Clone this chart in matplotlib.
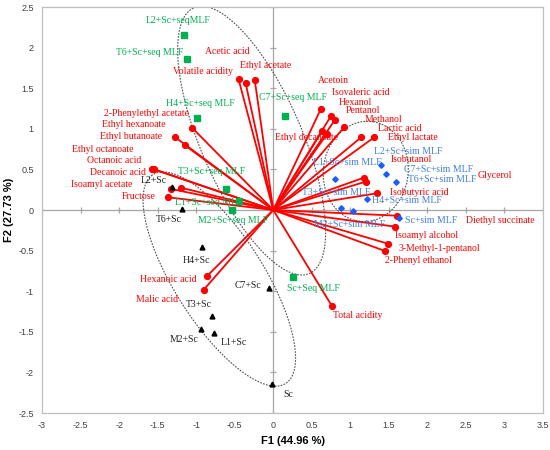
import numpy as np
import matplotlib.pyplot as plt

# loading vectors (variables)
var_names = ['Acetic acid', 'Volatile acidity', 'Ethyl acetate', '2-Phenylethyl acetate',
             'Ethyl hexanoate', 'Ethyl butanoate', 'Ethyl octanoate', 'Octanoic acid',
             'Decanoic acid', 'Isoamyl acetate', 'Fructose', 'Acetoin', 'Isovaleric acid',
             'Hexanol', 'Pentanol', 'Ethyl decanoate', 'Methanol', 'Lactic acid',
             'Ethyl lactate', 'Isobutanol', 'Glycerol', 'Isobutyric acid',
             'Diethyl succinate', 'Isoamyl alcohol', '3-Methyl-1-pentanol',
             '2-Phenyl ethanol', 'Total acidity', 'Hexanoic acid', 'Malic acid']
var_x = [-0.36, -0.45, -0.24, -1.05, -1.27, -1.15, -1.55, -1.20, -1.57, -1.33, -1.36,
         0.62, 0.75, 0.80, 0.92, 0.63, 0.70, 1.14, 1.31, 1.18, 1.20, 1.34,
         1.61, 1.58, 1.49, 1.45, 0.76, -0.855, -0.90]
var_y = [1.57, 1.61, 1.60, 1.01, 0.895, 0.80, 0.50, 0.275, 0.51, 0.26, 0.156,
         1.25, 1.16, 1.11, 1.02, 0.97, 0.94, 0.895, 0.895, 0.40, 0.35, 0.205,
         -0.07, -0.205, -0.415, -0.505, -1.18, -0.81, -0.98]
# label positions (centre of text)
var_lx = [-0.60, -0.91, -0.095, -1.64, -1.81, -1.84, -2.21, -2.07, -2.01, -2.23, -1.75,
          0.78, 1.14, 1.06, 1.16, 0.43, 1.43, 1.64, 1.81, 1.79, 2.88, 1.90,
          2.94, 1.99, 2.15, 1.88, 1.09, -1.36, -1.51]
var_ly = [1.95, 1.71, 1.78, 1.19, 1.055, 0.91, 0.74, 0.61, 0.46, 0.31, 0.17,
          1.60, 1.45, 1.33, 1.23, 0.895, 1.11, 1.00, 0.89, 0.62, 0.43, 0.22,
          -0.13, -0.32, -0.48, -0.62, -1.30, -0.86, -1.10]

# observations: sequential MLF (green)
seq_names = ['L2+Sc+seqMLF', 'T6+Sc+seq MLF', 'H4+Sc+seq MLF', 'C7+Sc+seq MLF',
             'T3+Sc+seq MLF', 'L1+Sc+seq MLF', 'M2+Sc+seq MLF', 'Sc+Seq MLF']
seq_x = [-1.16, -1.12, -0.99, 0.15, -0.61, -0.44, -0.53, 0.255]
seq_y = [2.16, 1.86, 1.13, 1.16, 0.255, 0.11, 0.0, -0.82]
seq_lx = [-1.23, -1.60, -0.95, 0.25, -0.80, -0.84, -0.52, 0.52]
seq_ly = [2.34, 1.94, 1.31, 1.38, 0.47, 0.095, -0.135, -0.965]

# simultaneous MLF (blue)
sim_names = ['L2+Sc+sim MLF', 'C7+Sc+sim MLF', 'T6+Sc+sim MLF', 'L1+Sc+sim MLF',
             'H4+Sc+sim MLF', 'T3+Sc+sim MLF', 'M2+Sc+sim MLF', 'Sc+sim MLF']
sim_x = [1.40, 1.46, 1.59, 0.80, 1.21, 0.88, 1.03, 1.63]
sim_y = [0.55, 0.44, 0.345, 0.38, 0.13, 0.02, -0.01, -0.10]
sim_lx = [1.75, 2.15, 2.19, 0.96, 1.74, 0.82, 0.995, 2.05]
sim_ly = [0.72, 0.50, 0.38, 0.58, 0.115, 0.22, -0.18, -0.13]

# Sc only (black)
sc_names = ['L2+Sc', 'T6+Sc', 'H4+Sc', 'C7+Sc', 'T3+Sc', 'M2+Sc', 'L1+Sc', 'Sc']
sc_x = [-1.32, -1.19, -0.93, -0.055, -0.79, -0.94, -0.765, -0.02]
sc_y = [0.28, 0.01, -0.455, -0.965, -1.31, -1.46, -1.51, -2.14]
sc_lx = [-1.55, -1.35, -1.0, -0.33, -0.97, -1.16, -0.51, 0.195]
sc_ly = [0.36, -0.12, -0.62, -0.93, -1.16, -1.59, -1.63, -2.27]

# group ellipses: centre x, centre y, semi-major, semi-minor, angle (deg)
ell_cx = [-0.28, -0.70, 1.20]
ell_cy = [0.855, -0.85, 0.475]
ell_a = [1.80, 1.548, 0.62]
ell_b = [0.65, 0.57, 0.55]
ell_ang = [114.9, 124.2, 80.0]

RED = '#ff0000'
GREEN = '#00b050'
BLUE_TXT = '#3d7fe8'
BLUE_PT = '#1a5cff'
serif = 'Liberation Serif'
sans = 'Liberation Sans'

fig = plt.figure(figsize=(5.5, 4.5), dpi=100)
ax = fig.add_axes([0.0764, 0.0822, 0.9109, 0.9022])
ax.set_xlim(-3, 3.5)
ax.set_ylim(-2.5, 2.5)

# zero axes with cross ticks
ax.axhline(0, color='#a6a6a6', lw=0.9, zorder=1)
ax.axvline(0, color='#a6a6a6', lw=0.9, zorder=1)
xt = np.arange(-3, 3.51, 0.5)
yt = np.arange(-2.5, 2.51, 0.5)
ax.plot(xt, np.zeros_like(xt), ls='none', marker='|', ms=5, mew=0.9, color='#a6a6a6', zorder=1)
ax.plot(np.zeros_like(yt), yt, ls='none', marker='_', ms=5, mew=0.9, color='#a6a6a6', zorder=1)

# ellipses
t = np.linspace(0, 2 * np.pi, 400)
for cx, cy, a, b, ang in zip(ell_cx, ell_cy, ell_a, ell_b, ell_ang):
    th = np.deg2rad(ang)
    ex = cx + a * np.cos(t) * np.cos(th) - b * np.sin(t) * np.sin(th)
    ey = cy + a * np.cos(t) * np.sin(th) + b * np.sin(t) * np.cos(th)
    ax.plot(ex, ey, color='#505050', lw=0.8, ls=(0, (1.5, 1.2)), zorder=2)

# variable vectors
for x, y in zip(var_x, var_y):
    ax.plot([0, x], [0, y], color=RED, lw=1.3, zorder=3)
ax.plot(var_x, var_y, ls='none', marker='o', ms=4.2, color=RED, zorder=4)
for n, x, y in zip(var_names, var_lx, var_ly):
    ax.text(x, y, n, color=RED, fontsize=7, family=serif, ha='center', va='center', zorder=5)

# observations
ax.plot(seq_x, seq_y, ls='none', marker='s', ms=3.8, color=GREEN, zorder=4)
ax.plot(sim_x, sim_y, ls='none', marker='D', ms=2.8, color=BLUE_PT, zorder=4)
ax.plot(sc_x, sc_y, ls='none', marker='^', ms=3.5, color='black', zorder=4)
for names, lx, ly, c in [(seq_names, seq_lx, seq_ly, GREEN), (sim_names, sim_lx, sim_ly, BLUE_TXT),
                         (sc_names, sc_lx, sc_ly, '#222222')]:
    for n, x, y in zip(names, lx, ly):
        ax.text(x, y, n, color=c, fontsize=7, family=serif, ha='center', va='center', zorder=5)

# frame and tick labels
for s in ax.spines.values():
    s.set_color('#bfbfbf')
    s.set_linewidth(0.9)
ax.set_xticks(xt)
ax.set_yticks(yt)
ax.set_xticklabels(['%g' % v for v in xt])
ax.set_yticklabels(['%g' % v for v in yt])
ax.tick_params(length=0, labelsize=6.5, labelcolor='#404040', pad=6)
for lab in ax.get_xticklabels() + ax.get_yticklabels():
    lab.set_family(sans)
ax.set_xlabel('F1 (44.96 %)', fontsize=8, fontweight='bold', family=sans, labelpad=4)
ax.set_ylabel('F2 (27.73 %)', fontsize=8, fontweight='bold', family=sans, labelpad=3)

fig.savefig('out.png', dpi=100)
